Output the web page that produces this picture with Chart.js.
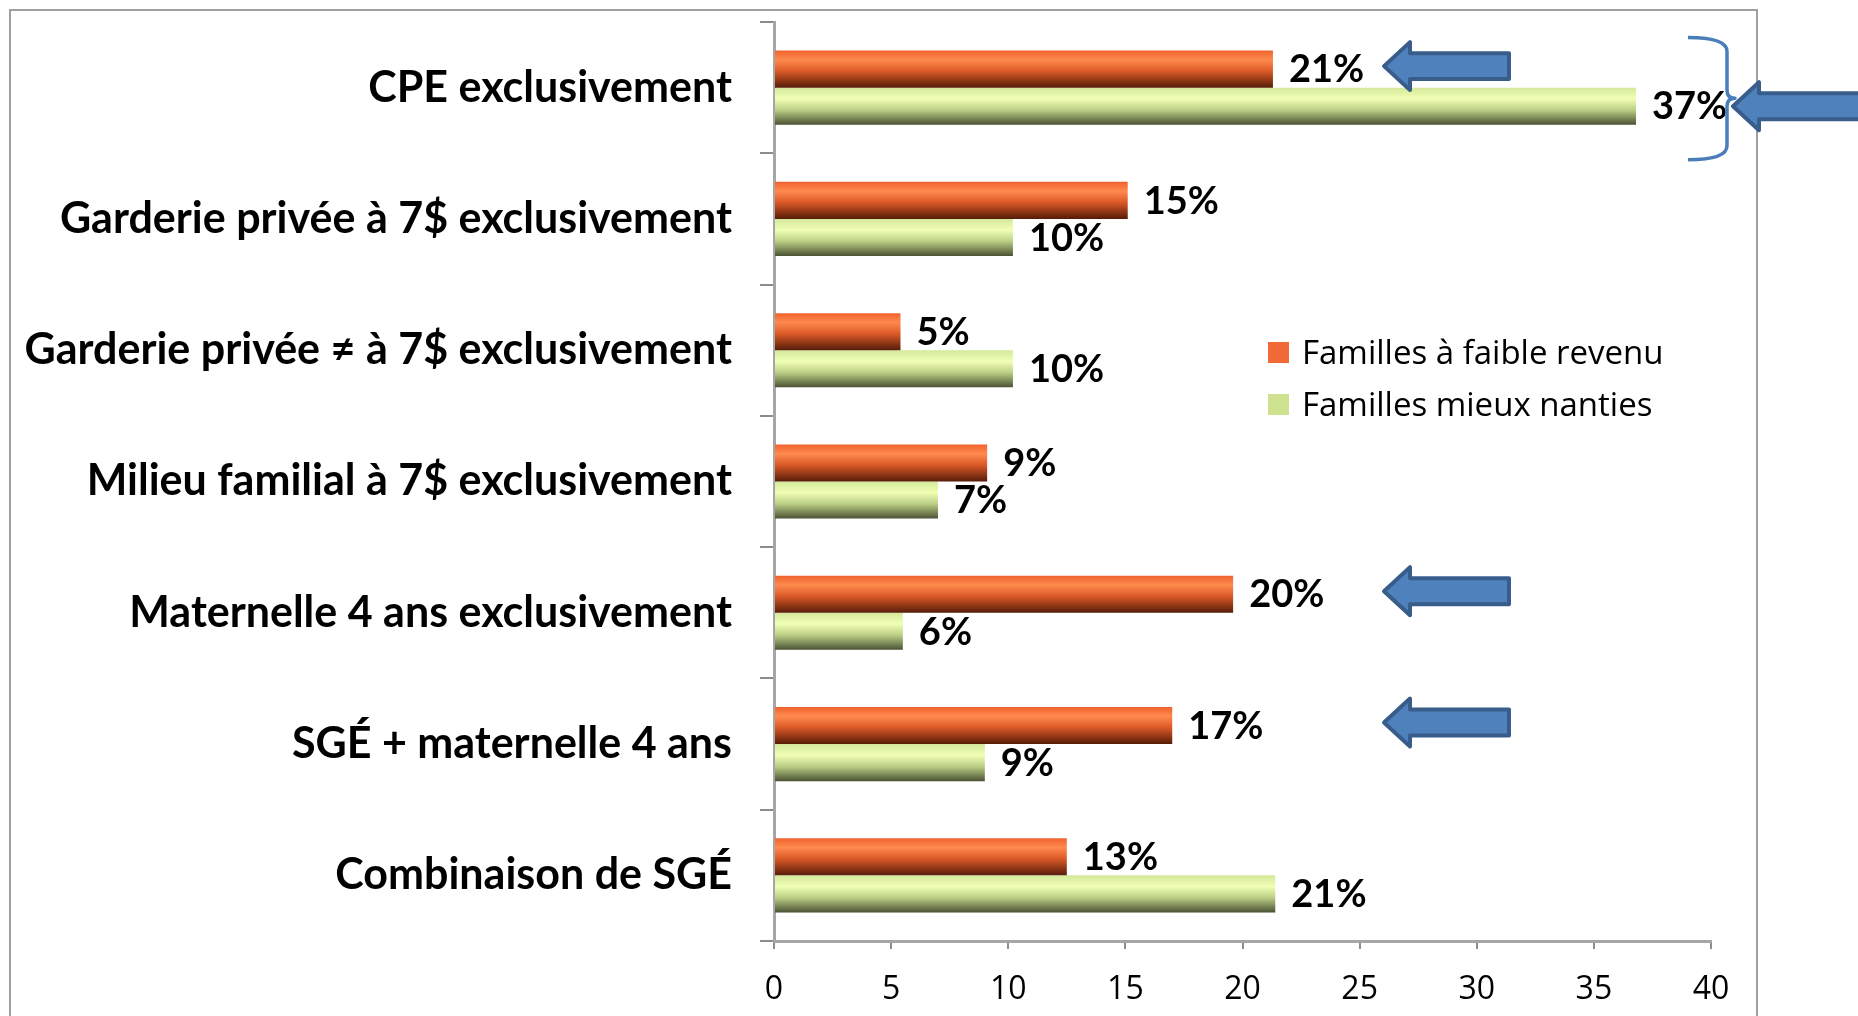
<!DOCTYPE html>
<html lang="fr">
<head>
    <meta charset="UTF-8">
    <title>Mode de garde selon le revenu</title>
    <script src="https://cdn.jsdelivr.net/npm/chart.js"></script>
    <style>
        html, body { margin: 0; padding: 0; background: #fff; }
        .chart-box { position: relative; width: 1858px; height: 1016px; }
    </style>
</head>
<body>
    <div class="chart-box">
        <canvas id="gardeChart" width="1858" height="1016"></canvas>
    </div>

    <script>
        // Data (percent)
        const categories = [
            'CPE exclusivement',
            'Garderie privée à 7$ exclusivement',
            'Garderie privée ≠ à 7$ exclusivement',
            'Milieu familial à 7$ exclusivement',
            'Maternelle 4 ans exclusivement',
            'SGÉ + maternelle 4 ans',
            'Combinaison de SGÉ'
        ];
        const seriesNames = ['Familles à faible revenu', 'Familles mieux nanties'];
        const faibleRevenu = [21.3, 15.1, 5.4, 9.1, 19.6, 17.0, 12.5];
        const mieuxNanties = [36.8, 10.2, 10.2, 7.0, 5.5, 9.0, 21.4];
        const xMin = 0, xMax = 40, xStep = 5;
        // bars pointed at by the blue arrows: [series, category]
        const arrowTargets = [[0, 0], [0, 4], [0, 5]];

        const legendColors = ['#f26a36', '#cde18e'];
        const shades = [
            [[0, '#f0622e'], [0.25, '#ff8a4e'], [0.55, '#dc5a28'], [1, '#561c08']],
            [[0, '#d4e89c'], [0.3, '#f0ffb4'], [0.6, '#bccf86'], [1, '#4a5233']]
        ];

        // pick a font size so the widest text hits a given width
        const probe = document.createElement('canvas').getContext('2d');
        function fitSize(texts, weight, family, target) {
            probe.font = weight + ' 100px ' + family;
            const w = Math.max(...texts.map(t => probe.measureText(t).width));
            return Math.round(100 * target / w);
        }
        const catSize = fitSize(categories, 'bold', 'Lato', 708);
        const legendSize = fitSize([seriesNames[0]], 'normal', '"Open Sans"', 366);

        // gradient fill per bar, built from the bar's own position
        const barShading = {
            id: 'barShading',
            beforeDatasetsDraw(chart) {
                const ctx = chart.ctx;
                chart.data.datasets.forEach((ds, i) => {
                    chart.getDatasetMeta(i).data.forEach(bar => {
                        const top = bar.y - bar.height / 2;
                        const g = ctx.createLinearGradient(0, top, 0, top + bar.height);
                        shades[i].forEach(([o, c]) => g.addColorStop(o, c));
                        bar.options.backgroundColor = g;
                    });
                });
            }
        };

        // "21%" style labels at bar ends
        const valueLabels = {
            id: 'valueLabels',
            afterDatasetsDraw(chart) {
                const ctx = chart.ctx;
                ctx.save();
                ctx.font = 'bold 38px Lato';
                ctx.fillStyle = '#000';
                ctx.textAlign = 'left';
                ctx.textBaseline = 'middle';
                chart.data.datasets.forEach((ds, i) => {
                    chart.getDatasetMeta(i).data.forEach((bar, j) => {
                        ctx.fillText(Math.round(ds.data[j]) + '%', bar.x + 16, bar.y + 1);
                    });
                });
                ctx.restore();
            }
        };

        function drawArrow(ctx, x, cy, len, h) {
            const head = 26, shaft = h * 0.54;
            ctx.beginPath();
            ctx.moveTo(x, cy);
            ctx.lineTo(x + head, cy - h / 2);
            ctx.lineTo(x + head, cy - shaft / 2);
            ctx.lineTo(x + len, cy - shaft / 2);
            ctx.lineTo(x + len, cy + shaft / 2);
            ctx.lineTo(x + head, cy + shaft / 2);
            ctx.lineTo(x + head, cy + h / 2);
            ctx.closePath();
            ctx.fillStyle = '#4f81bd';
            ctx.fill();
            ctx.lineWidth = 4;
            ctx.lineJoin = 'round';
            ctx.strokeStyle = '#385d8a';
            ctx.stroke();
        }

        // frame, legend, arrows and brace
        const extras = {
            id: 'extras',
            afterDraw(chart) {
                const ctx = chart.ctx;
                ctx.save();
                ctx.strokeStyle = '#a0a0a0';
                ctx.lineWidth = 2;
                ctx.strokeRect(10, 10, 1747, 1100);

                // legend
                ctx.font = legendSize + 'px "Open Sans"';
                ctx.textBaseline = 'alphabetic';
                ctx.textAlign = 'left';
                seriesNames.forEach((name, i) => {
                    const y = 342 + i * 52;
                    ctx.fillStyle = legendColors[i];
                    ctx.fillRect(1268, y, 21, 21);
                    ctx.fillStyle = '#000';
                    ctx.fillText(name, 1302, y + 22);
                });

                // arrows
                arrowTargets.forEach(([s, c]) => {
                    const bar = chart.getDatasetMeta(s).data[c];
                    drawArrow(ctx, 1384, bar.y - 3, 125, 48);
                });
                const green = chart.getDatasetMeta(1).data[0];
                drawArrow(ctx, 1733, green.y, 128, 48);

                // brace around the CPE pair
                const top = chart.getDatasetMeta(0).data[0];
                const yTop = top.y - top.height / 2 - 13;
                const yBot = green.y + green.height / 2 + 35;
                const yMid = green.y - 8;
                ctx.beginPath();
                ctx.moveTo(1688, yTop);
                ctx.quadraticCurveTo(1727, yTop, 1727, yTop + 14);
                ctx.lineTo(1727, yMid - 8);
                ctx.quadraticCurveTo(1727, yMid, 1735, yMid);
                ctx.quadraticCurveTo(1727, yMid, 1727, yMid + 8);
                ctx.lineTo(1727, yBot - 14);
                ctx.quadraticCurveTo(1727, yBot, 1688, yBot);
                ctx.strokeStyle = '#4a7ebb';
                ctx.lineWidth = 3.5;
                ctx.stroke();
                ctx.restore();
            }
        };

        new Chart(document.getElementById('gardeChart'), {
            type: 'bar',
            data: {
                labels: categories,
                datasets: [
                    { label: seriesNames[0], data: faibleRevenu, backgroundColor: c => legendColors[c.datasetIndex] },
                    { label: seriesNames[1], data: mieuxNanties, backgroundColor: c => legendColors[c.datasetIndex] }
                ]
            },
            options: {
                indexAxis: 'y',
                responsive: false,
                animation: false,
                events: [],
                layout: { padding: { top: 22, right: 147, left: 0, bottom: 0 } },
                datasets: { bar: { categoryPercentage: 0.565, barPercentage: 1, borderWidth: 0 } },
                plugins: { legend: { display: false }, tooltip: { enabled: false } },
                scales: {
                    y: {
                        grid: { drawOnChartArea: false, tickLength: 14, color: '#8c8c8c', lineWidth: 2 },
                        border: { color: '#a6a6a6', width: 3 },
                        ticks: { color: '#000', padding: 28, font: { family: 'Lato', weight: 'bold', size: catSize } },
                        afterFit(scale) {
                            scale.width = 774;
                            scale.paddingTop = 0;
                            scale.paddingBottom = 0;
                        }
                    },
                    x: {
                        min: xMin, max: xMax,
                        grid: { drawOnChartArea: false, tickLength: 8, color: '#8c8c8c', lineWidth: 2 },
                        border: { color: '#a6a6a6', width: 3 },
                        ticks: { stepSize: xStep, color: '#000', padding: 22, font: { family: '"Open Sans"', size: 32 } },
                        afterFit(scale) {
                            scale.height = 1016 - 941;
                            scale.paddingLeft = 0;
                        }
                    }
                }
            },
            plugins: [barShading, valueLabels, extras]
        });
    </script>
</body>
</html>
